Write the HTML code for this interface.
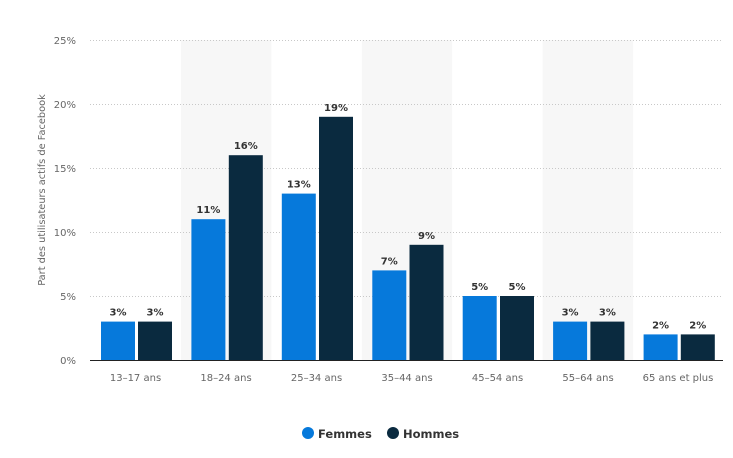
<!DOCTYPE html>
<html><head><meta charset="utf-8"><style>
html,body{margin:0;padding:0;background:#fff;}
svg{display:block;font-family:"DejaVu Sans","Liberation Sans",sans-serif;}
</style></head><body>
<svg width="733" height="458" viewBox="0 0 733 458">
<g fill="#f7f7f7">
<rect x="181" y="40" width="90.4" height="320"/>
<rect x="361.8" y="40" width="90.4" height="320"/>
<rect x="542.7" y="40" width="90.4" height="320"/>
</g>
<g stroke="#c8c8c8" stroke-width="1" stroke-dasharray="1,2">
<line x1="90" x2="723" y1="40.5" y2="40.5"/>
<line x1="90" x2="723" y1="104.5" y2="104.5"/>
<line x1="90" x2="723" y1="168.5" y2="168.5"/>
<line x1="90" x2="723" y1="232.5" y2="232.5"/>
<line x1="90" x2="723" y1="296.5" y2="296.5"/>
</g>
<g font-size="10" fill="#666" text-anchor="end">
<text x="76" y="44">25%</text>
<text x="76" y="108">20%</text>
<text x="76" y="172">15%</text>
<text x="76" y="236">10%</text>
<text x="76" y="300">5%</text>
<text x="76" y="364">0%</text>
</g>
<text transform="translate(45,190) rotate(-90)" font-size="9.8" fill="#666" text-anchor="middle">Part des utilisateurs actifs de Facebook</text>
<line x1="90" x2="723" y1="360.5" y2="360.5" stroke="#222" stroke-width="1"/>
<g font-size="10" fill="#666" text-anchor="middle">
<text x="135.5" y="381">13–17 ans</text>
<text x="226" y="381">18–24 ans</text>
<text x="316.5" y="381">25–34 ans</text>
<text x="407" y="381">35–44 ans</text>
<text x="497.5" y="381">45–54 ans</text>
<text x="588" y="381">55–64 ans</text>
<text x="678" y="381">65 ans et plus</text>
</g>
<circle cx="308" cy="433" r="6" fill="#0679db"/>
<text x="318" y="438" font-size="11.5" font-weight="bold" fill="#333">Femmes</text>
<circle cx="393" cy="433" r="6" fill="#0a2a3f"/>
<text x="403" y="438" font-size="11.5" font-weight="bold" fill="#333">Hommes</text>
<g>
<rect x="101" y="321.6" width="34" height="38.4" fill="#0679db"/><rect x="138" y="321.6" width="34" height="38.4" fill="#0a2a3f"/>
<rect x="191.4" y="219.2" width="34" height="140.8" fill="#0679db"/><rect x="228.8" y="155.2" width="34" height="204.8" fill="#0a2a3f"/>
<rect x="281.8" y="193.6" width="34" height="166.4" fill="#0679db"/><rect x="319" y="116.8" width="34" height="243.2" fill="#0a2a3f"/>
<rect x="372.3" y="270.4" width="34" height="89.6" fill="#0679db"/><rect x="409.5" y="244.8" width="34" height="115.2" fill="#0a2a3f"/>
<rect x="462.7" y="296" width="34" height="64" fill="#0679db"/><rect x="500" y="296" width="34" height="64" fill="#0a2a3f"/>
<rect x="553.1" y="321.6" width="34" height="38.4" fill="#0679db"/><rect x="590.4" y="321.6" width="34" height="38.4" fill="#0a2a3f"/>
<rect x="643.6" y="334.4" width="34" height="25.6" fill="#0679db"/><rect x="680.8" y="334.4" width="34" height="25.6" fill="#0a2a3f"/>
</g>
<g font-size="10" font-weight="bold" fill="#333" text-anchor="middle">
<text x="118" y="315.6">3%</text><text x="155" y="315.6">3%</text>
<text x="208.4" y="213.2">11%</text><text x="245.8" y="149.2">16%</text>
<text x="298.8" y="187.6">13%</text><text x="336" y="110.8">19%</text>
<text x="389.3" y="264.4">7%</text><text x="426.5" y="238.8">9%</text>
<text x="479.7" y="290">5%</text><text x="517" y="290">5%</text>
<text x="570.1" y="315.6">3%</text><text x="607.4" y="315.6">3%</text>
<text x="660.6" y="328.4">2%</text><text x="697.8" y="328.4">2%</text>
</g>
</svg>
</body></html>
